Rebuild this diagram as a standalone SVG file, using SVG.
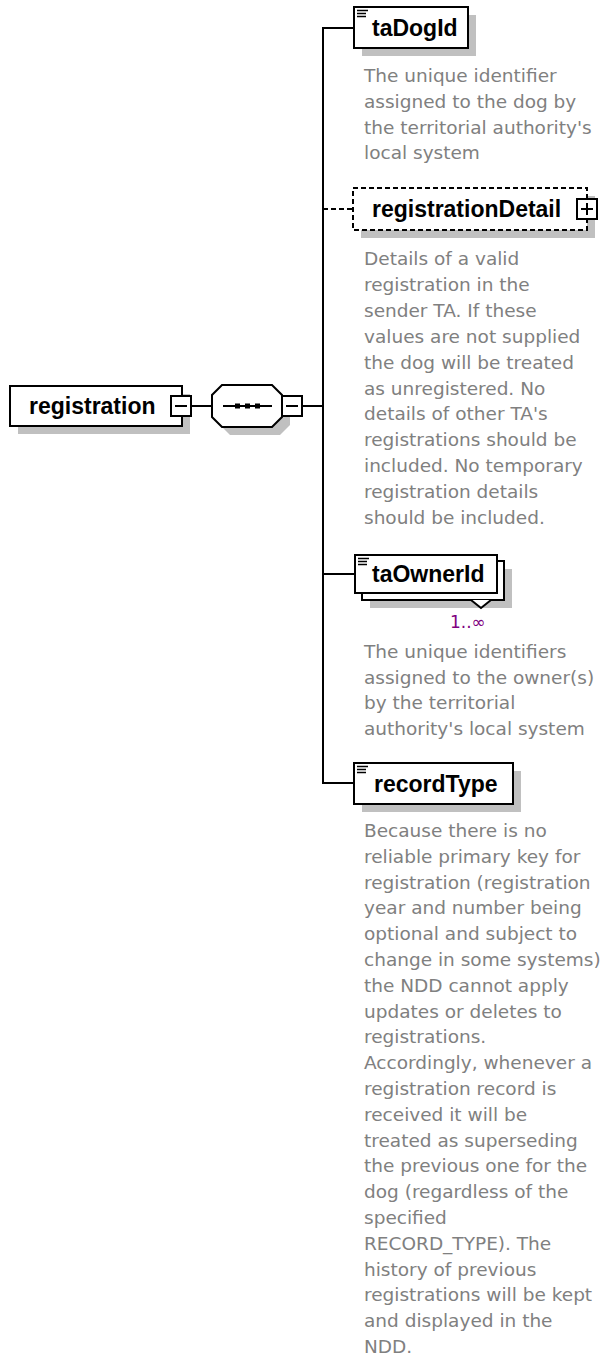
<svg xmlns="http://www.w3.org/2000/svg" width="606" height="1363" viewBox="0 0 606 1363">
<defs>
<style>
.shadow{fill:#c0c0c0}
.box{fill:#fff;stroke:#000;stroke-width:2}
.dbox{fill:#fff;stroke:#000;stroke-width:2;stroke-dasharray:5 3}
.conn{stroke:#000;stroke-width:2;fill:none}
.dconn{stroke:#000;stroke-width:2;fill:none;stroke-dasharray:5 3}
.lbl{font-family:"Liberation Sans",Arial,sans-serif;font-weight:bold;font-size:23px;fill:#000}
.desc{font-family:"DejaVu Sans",Verdana,sans-serif;font-size:18.5px;fill:#808080}
.occ{font-family:"DejaVu Sans",Verdana,sans-serif;font-size:17px;fill:#800080}
.icon{stroke:#000;stroke-width:1.5}
.sign{stroke:#000;stroke-width:2}
</style>
</defs>
<rect width="606" height="1363" fill="#fff"/>
<g id="connectors">
<line class="conn" x1="191" y1="406" x2="212" y2="406"/>
<line class="conn" x1="302" y1="406" x2="323" y2="406"/>
<line class="conn" x1="323" y1="27" x2="323" y2="784"/>
<line class="conn" x1="323" y1="28" x2="354" y2="28"/>
<line class="dconn" x1="323" y1="209" x2="353" y2="209"/>
<line class="conn" x1="323" y1="574" x2="355" y2="574"/>
<line class="conn" x1="323" y1="783" x2="354" y2="783"/>
</g>
<g id="registration">
<rect class="shadow" x="18" y="394" width="172" height="40"/>
<rect class="box" x="10" y="386" width="172" height="40"/>
<text class="lbl" x="29" y="414">registration</text>
<rect class="box" x="171" y="396" width="20" height="20"/>
<line class="sign" x1="175" y1="406" x2="187" y2="406"/>
</g>
<g id="sequence">
<polygon class="shadow" points="230,393 280,393 290,403 290,425 280,435 230,435 220,425 220,403"/>
<polygon class="box" points="222,385 272,385 282,395 282,417 272,427 222,427 212,417 212,395"/>
<line class="sign" x1="223" y1="406" x2="272" y2="406"/>
<rect x="235" y="403.5" width="5" height="5" fill="#000"/>
<rect x="245" y="403.5" width="5" height="5" fill="#000"/>
<rect x="255" y="403.5" width="5" height="5" fill="#000"/>
<rect class="box" x="282" y="396" width="20" height="20"/>
<line class="sign" x1="286" y1="406" x2="298" y2="406"/>
</g>
<g id="taDogId">
<rect class="shadow" x="362" y="15" width="114" height="41"/>
<rect class="box" x="354" y="7" width="114" height="41"/>
<line class="icon" x1="357" y1="10.5" x2="368" y2="10.5"/>
<line class="icon" x1="357" y1="13.5" x2="366" y2="13.5"/>
<line class="icon" x1="357" y1="16.5" x2="366" y2="16.5"/>
<text class="lbl" x="372" y="36">taDogId</text>
<text class="desc" x="364" y="82">The unique identifier</text>
<text class="desc" x="364" y="107.8">assigned to the dog by</text>
<text class="desc" x="364" y="133.6">the territorial authority's</text>
<text class="desc" x="364" y="159.4">local system</text>
</g>
<g id="registrationDetail">
<rect class="shadow" x="361" y="196" width="234" height="42"/>
<rect class="dbox" x="353" y="188" width="234" height="42"/>
<text class="lbl" x="372" y="217">registrationDetail</text>
<rect class="box" x="577" y="199" width="20" height="20"/>
<line class="sign" x1="581" y1="209" x2="593" y2="209"/>
<line class="sign" x1="587" y1="203" x2="587" y2="215"/>
<text class="desc" x="364" y="265">Details of a valid</text>
<text class="desc" x="364" y="290.9">registration in the</text>
<text class="desc" x="364" y="316.8">sender TA. If these</text>
<text class="desc" x="364" y="342.7">values are not supplied</text>
<text class="desc" x="364" y="368.6">the dog will be treated</text>
<text class="desc" x="364" y="394.5">as unregistered. No</text>
<text class="desc" x="364" y="420.4">details of other TA's</text>
<text class="desc" x="364" y="446.3">registrations should be</text>
<text class="desc" x="364" y="472.2">included. No temporary</text>
<text class="desc" x="364" y="498.1">registration details</text>
<text class="desc" x="364" y="524">should be included.</text>
</g>
<g id="taOwnerId">
<rect class="shadow" x="370" y="569" width="142" height="39"/>
<rect class="box" x="362" y="561" width="142" height="39"/>
<polyline class="box" points="471,600 481,608 491,600"/>
<rect class="box" x="355" y="555" width="142" height="38"/>
<line class="icon" x1="358" y1="558.5" x2="369" y2="558.5"/>
<line class="icon" x1="358" y1="561.5" x2="367" y2="561.5"/>
<line class="icon" x1="358" y1="564.5" x2="367" y2="564.5"/>
<text class="lbl" x="372" y="582">taOwnerId</text>
<text class="occ" x="450" y="628">1..∞</text>
<text class="desc" x="364" y="658">The unique identifiers</text>
<text class="desc" x="364" y="683.5">assigned to the owner(s)</text>
<text class="desc" x="364" y="709">by the territorial</text>
<text class="desc" x="364" y="734.5">authority's local system</text>
</g>
<g id="recordType">
<rect class="shadow" x="362" y="771" width="159" height="41"/>
<rect class="box" x="354" y="763" width="159" height="41"/>
<line class="icon" x1="357" y1="766.5" x2="368" y2="766.5"/>
<line class="icon" x1="357" y1="769.5" x2="366" y2="769.5"/>
<line class="icon" x1="357" y1="772.5" x2="366" y2="772.5"/>
<text class="lbl" x="374" y="792">recordType</text>
<text class="desc" x="364" y="837">Because there is no</text>
<text class="desc" x="364" y="862.8">reliable primary key for</text>
<text class="desc" x="364" y="888.6">registration (registration</text>
<text class="desc" x="364" y="914.4">year and number being</text>
<text class="desc" x="364" y="940.2">optional and subject to</text>
<text class="desc" x="364" y="966">change in some systems)</text>
<text class="desc" x="364" y="991.8">the NDD cannot apply</text>
<text class="desc" x="364" y="1017.6">updates or deletes to</text>
<text class="desc" x="364" y="1043.4">registrations.</text>
<text class="desc" x="364" y="1069.2">Accordingly, whenever a</text>
<text class="desc" x="364" y="1095">registration record is</text>
<text class="desc" x="364" y="1120.8">received it will be</text>
<text class="desc" x="364" y="1146.6">treated as superseding</text>
<text class="desc" x="364" y="1172.4">the previous one for the</text>
<text class="desc" x="364" y="1198.2">dog (regardless of the</text>
<text class="desc" x="364" y="1224">specified</text>
<text class="desc" x="364" y="1249.8">RECORD_TYPE). The</text>
<text class="desc" x="364" y="1275.6">history of previous</text>
<text class="desc" x="364" y="1301.4">registrations will be kept</text>
<text class="desc" x="364" y="1327.2">and displayed in the</text>
<text class="desc" x="364" y="1353">NDD.</text>
</g>
</svg>
